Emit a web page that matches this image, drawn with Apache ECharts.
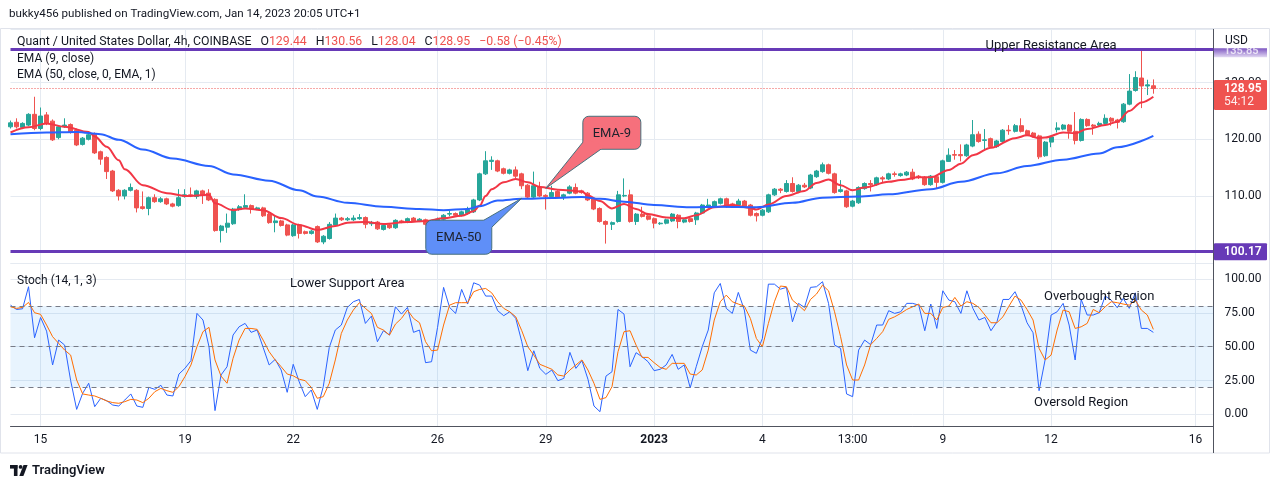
<!DOCTYPE html>
<html><head><meta charset="utf-8">
<script src="https://cdn.jsdelivr.net/npm/echarts@6/dist/echarts.min.js"></script>
<style>html,body{margin:0;padding:0;background:#fff;}#c{width:1280px;height:489px;}</style>
</head><body><div id="c"></div>
<script>
// ---------- data ----------
const opens = [
122.2,123.0,122.1,122.5,124.4,121.9,124.3,123.2,120.3,122.2,
122.6,121.6,119.1,120.0,120.9,117.8,116.8,114.4,111.0,110.0,
111.0,111.0,108.1,107.8,109.7,109.0,109.5,108.6,108.3,109.9,
110.2,109.9,110.9,110.5,109.4,103.9,104.5,105.1,107.6,108.0,
108.3,107.7,107.9,106.8,105.3,105.6,104.9,103.0,104.9,103.7,
103.4,104.6,101.9,102.5,104.9,106.1,105.8,105.8,106.0,106.2,
105.1,105.4,104.1,104.9,104.4,105.6,105.4,106.1,105.6,105.8,
105.1,105.3,105.9,106.8,106.9,106.6,106.9,107.2,109.3,113.9,
116.1,116.2,114.8,114.0,114.6,113.9,111.9,109.8,111.6,110.1,
109.9,110.8,109.9,110.5,111.5,110.9,110.5,109.5,107.8,105.5,
105.0,105.5,110.0,110.2,105.5,106.8,106.5,106.0,105.1,105.2,
105.6,106.6,105.4,106.0,105.8,107.0,108.2,108.1,108.7,109.5,
108.6,108.4,109.1,108.4,106.9,106.6,107.2,110.2,111.2,110.8,
112.2,110.8,111.9,111.4,113.4,114.3,115.5,113.9,110.8,110.9,
108.2,108.8,111.3,112.2,112.0,113.2,113.0,113.9,113.6,113.7,
114.2,113.5,113.3,112.0,113.4,112.4,116.1,117.3,117.3,117.1,
118.8,120.9,119.8,120.1,118.7,119.6,121.6,121.4,122.4,121.5,
121.1,120.6,117.1,119.5,121.7,121.8,122.5,121.4,119.8,123.5,
122.5,122.5,122.8,123.7,123.4,123.1,126.2,128.6,130.8,129.4,
129.44];
const closes = [
122.9,122.2,122.8,124.4,121.9,124.1,122.8,119.9,122.2,122.5,
121.3,119.0,120.2,120.8,117.6,116.5,114.3,110.9,110.0,111.0,
111.5,107.9,107.8,109.7,109.0,109.5,108.6,108.2,109.7,110.2,
110.0,110.9,110.2,109.3,103.9,104.7,105.2,107.7,108.1,108.3,
107.7,107.9,106.5,105.3,105.6,104.8,103.1,104.9,103.4,103.4,
103.8,101.9,102.9,105.0,106.1,105.8,106.0,106.1,106.2,105.0,
105.2,104.2,104.8,104.4,105.7,105.4,106.0,105.6,105.9,105.0,
105.3,105.9,106.6,106.9,106.6,107.2,107.6,109.3,113.9,116.2,
116.3,114.4,114.0,114.6,113.5,111.8,109.8,111.8,110.0,109.9,
110.6,109.8,110.2,111.6,110.5,110.6,109.3,107.7,105.5,105.0,
105.3,110.2,110.1,105.5,106.8,106.4,105.9,105.2,105.2,105.8,
106.8,105.5,105.8,105.5,107.0,108.4,108.4,109.0,109.5,108.1,
108.1,109.1,108.2,106.6,106.5,107.5,110.2,111.2,111.0,112.2,
110.8,111.9,111.6,113.7,114.4,115.5,114.0,110.6,111.1,108.1,
109.1,111.5,112.2,112.0,113.2,113.0,113.9,113.8,113.9,114.2,
113.0,113.4,112.0,113.5,112.4,116.2,117.2,117.2,117.1,119.0,
120.8,119.6,119.9,118.7,119.7,121.6,121.5,122.4,121.4,120.8,
120.5,116.9,119.5,120.4,122.0,122.5,121.4,119.8,123.5,122.4,
122.3,122.8,123.7,123.2,123.0,126.2,128.5,130.9,129.4,129.6,
128.95];
const lows = [
121.9,121.9,121.8,122.3,121.6,121.6,122.5,119.7,120.0,122.0,
121.0,118.8,118.9,119.8,117.4,115.5,113.0,110.7,109.2,109.4,
110.8,107.1,107.6,106.6,108.8,108.8,108.4,108.0,108.1,109.7,
109.8,109.5,108.6,109.1,103.7,101.8,103.5,104.9,107.4,107.8,
106.9,107.5,106.3,105.1,103.6,104.6,102.9,102.8,102.5,103.2,
103.2,101.7,101.5,102.3,104.7,105.6,105.6,105.6,105.8,104.3,
104.7,104.0,103.9,104.2,104.2,105.2,105.2,105.4,105.4,104.8,
104.3,105.1,105.7,106.4,106.4,106.4,106.7,107.0,109.1,113.7,
114.6,114.2,113.8,113.8,113.1,111.2,109.6,109.6,109.8,107.6,
109.7,109.6,109.3,110.3,110.3,110.4,109.1,107.5,105.3,101.6,
104.0,105.3,109.8,105.3,104.9,106.2,105.7,104.3,104.9,105.0,
105.4,104.3,105.2,105.3,104.9,106.8,108.0,107.9,108.5,107.9,
107.9,108.2,108.0,106.4,105.5,106.4,107.0,110.0,110.5,110.6,
110.6,110.6,111.4,111.2,113.2,114.1,113.8,110.4,110.6,107.9,
108.0,108.6,111.1,110.8,111.8,112.4,112.8,113.4,113.4,113.5,
112.8,113.0,111.8,111.8,111.4,112.2,116.0,116.4,116.1,116.9,
118.6,119.4,118.1,118.5,118.5,119.4,120.8,121.2,121.2,120.6,
120.3,116.5,116.9,118.6,121.2,121.6,120.1,119.1,119.6,122.2,
120.8,122.3,122.6,122.4,121.9,122.9,126.0,128.4,125.5,127.8,
128.04];
const highs = [
123.3,123.7,123.0,124.6,127.5,125.6,124.8,123.5,122.4,123.7,
122.8,121.9,120.4,121.0,121.2,118.0,117.0,114.6,111.2,111.2,
112.2,111.2,110.8,109.9,110.3,109.8,109.7,108.8,111.2,111.2,
111.5,111.1,111.1,111.2,109.6,104.9,106.9,107.9,108.4,110.3,
108.5,108.1,108.1,107.0,106.6,105.8,105.1,105.1,105.1,103.9,
104.0,104.8,103.1,105.4,106.9,106.3,106.3,106.6,106.8,106.4,
105.6,105.6,105.0,105.1,105.9,105.8,106.2,106.3,106.1,106.0,
105.5,106.2,106.8,107.4,107.1,107.4,108.1,109.5,114.1,117.9,
117.0,116.4,115.0,114.8,115.2,114.1,112.1,114.3,112.5,110.3,
111.8,111.0,110.4,111.9,112.2,111.1,110.7,109.7,108.0,105.7,
105.5,110.9,113.1,111.1,107.0,108.1,106.7,106.2,105.4,106.0,
107.0,106.8,106.0,106.2,107.2,108.6,109.5,109.2,109.7,109.7,
108.8,109.5,109.3,108.6,107.1,107.7,110.4,111.4,111.4,112.8,
113.3,112.1,112.3,113.9,114.6,115.9,115.7,114.1,112.8,111.1,
109.3,111.7,112.4,112.8,113.4,113.5,114.1,114.3,114.1,114.4,
114.8,113.7,113.5,113.7,113.6,116.4,118.4,118.1,119.1,119.2,
123.4,121.4,121.8,120.3,119.9,121.8,122.5,122.7,123.7,121.7,
121.3,120.8,119.7,120.6,123.0,122.7,122.7,124.8,123.7,123.7,
122.7,123.1,124.4,123.9,123.6,126.4,131.5,132.0,136.0,130.5,
130.56];
// EMA lines read at sample candles: [candle index, value]
const ema9 = [[0,121.2],[3,122.1],[6,122.8],[9,122.2],[13,121.3],[14,120.5],[16,118.7],[18,116.3],[19,114.7],[22,111.9],[26,110.5],[29,110.0],[33,110.2],[34,108.7],[37,107.5],[39,107.8],[42,107.5],[45,106.1],[48,104.9],[51,104.0],[54,104.7],[56,105.3],[59,105.4],[62,105.06],[66,105.4],[69,105.6],[72,106.06],[75,106.5],[77,107.3],[78,108.3],[79,110.0],[80,111.2],[82,112.4],[84,113.0],[86,112.4],[88,111.6],[91,111.1],[95,110.8],[96,110.1],[98,109.1],[100,107.8],[102,108.6],[104,107.7],[106,106.8],[109,106.2],[112,106.06],[114,106.6],[117,108.0],[120,108.4],[123,107.9],[124,107.6],[126,108.5],[129,110.0],[132,110.9],[134,112.3],[136,112.9],[138,111.9],[140,111.0],[142,111.5],[146,112.5],[148,112.8],[151,113.3],[153,113.3],[156,114.6],[158,115.7],[160,117.2],[163,118.5],[167,120.2],[169,120.7],[171,120.2],[172,120.3],[175,121.2],[177,121.06],[179,121.8],[182,122.5],[184,123.1],[186,125.0],[188,126.5],[190,127.5]];
const ema50 = [[0,120.9],[6,121.2],[11,121.3],[15,120.9],[18,119.9],[22,118.2],[27,116.6],[33,115.3],[37,113.8],[43,112.7],[48,111.0],[51,109.9],[56,108.8],[62,108.1],[68,107.7],[72,107.5],[76,107.7],[78,108.2],[81,109.2],[85,109.5],[90,109.65],[95,109.8],[98,109.5],[102,109.0],[107,108.4],[113,108.0],[118,108.1],[124,108.0],[130,108.8],[135,109.7],[141,109.9],[146,110.3],[153,111.2],[158,112.5],[164,114.0],[169,115.3],[175,116.4],[181,117.5],[184,118.6],[190,120.6]];
const stochK = [
80.7,77.5,78.0,94.3,56.6,71.6,61.5,36.5,54.9,51.2,
25.0,3.7,15.6,23.0,5.7,11.9,10.1,6.9,6.2,10.6,
15.1,6.2,5.2,20.0,18.5,21.5,14.3,13.6,29.8,34.0,
39.7,74.6,69.7,50.0,2.8,29.1,35.2,58.6,64.7,67.2,
60.6,62.3,49.5,36.5,40.6,32.8,16.3,37.0,24.0,13.1,
18.0,3.7,20.5,49.5,62.3,66.0,79.0,83.2,84.9,67.2,
72.6,53.7,61.8,58.6,79.5,74.1,79.0,60.6,62.3,38.2,
38.9,64.3,93.8,79.0,74.6,92.3,81.5,97.2,95.5,87.4,
87.4,76.6,72.9,75.8,70.9,53.7,32.3,47.0,34.0,29.6,
32.8,24.9,26.6,45.8,34.0,39.7,26.0,6.2,2.0,28.3,
31.5,77.5,74.1,35.2,45.6,42.6,38.9,32.3,33.3,36.5,
44.3,33.3,36.5,19.7,35.2,50.0,62.3,89.8,96.7,78.3,
74.6,90.1,77.1,47.5,45.1,56.1,96.2,96.2,92.5,93.8,
68.4,82.0,79.0,93.8,94.3,98.0,82.0,51.2,48.8,15.1,
13.1,47.5,54.9,51.5,66.0,66.0,76.6,74.6,75.8,82.0,
82.0,80.7,61.8,81.5,63.5,91.3,84.4,83.2,74.6,91.3,
78.3,69.7,71.6,61.8,68.4,84.9,84.9,90.6,80.7,67.7,
60.3,17.5,40.2,73.4,75.8,82.0,66.0,40.2,84.9,73.4,
73.4,75.1,87.4,84.4,78.8,85.7,78.3,89.8,63.5,63.5,
60.6];
const stochD = [
79.5,78.3,79.0,82.7,75.1,73.9,66.0,57.4,52.5,47.5,
43.8,25.4,15.1,14.3,13.6,11.9,9.9,8.7,8.2,9.4,
11.1,10.6,8.7,11.9,16.8,19.2,17.5,16.3,20.5,27.9,
36.5,50.0,61.1,64.3,40.2,28.3,23.0,41.4,54.9,63.5,
63.5,62.8,54.9,46.3,40.2,35.2,29.8,28.5,26.0,24.9,
20.0,11.9,13.1,23.0,40.2,59.8,69.7,77.1,82.5,78.3,
74.6,64.3,62.3,58.6,66.7,70.9,77.1,70.9,67.7,53.7,
47.0,47.5,66.0,80.7,82.5,82.5,82.5,90.6,92.3,93.0,
89.8,83.2,78.3,75.8,72.1,61.8,50.0,43.8,37.0,35.2,
33.3,29.1,28.3,32.8,36.5,40.2,32.8,23.0,11.1,12.4,
20.5,46.3,61.1,61.8,51.2,42.1,42.1,38.2,34.7,33.3,
37.7,37.7,37.7,29.8,29.1,32.8,47.5,69.7,83.2,88.1,
83.2,81.5,80.0,70.9,56.1,50.0,67.2,83.2,94.8,94.3,
84.4,80.7,76.6,84.9,88.9,95.5,91.3,75.8,57.4,36.5,
25.4,25.4,36.5,51.5,56.1,61.1,70.2,72.1,74.6,77.5,
79.5,81.5,74.6,74.6,69.7,79.0,80.0,86.4,80.0,83.2,
82.0,79.0,73.4,67.7,67.7,72.1,80.0,87.4,84.4,77.5,
69.7,48.8,40.2,43.8,62.3,77.1,75.8,63.5,64.7,67.2,
77.5,75.1,79.5,83.2,82.5,81.5,80.7,84.4,77.1,73.4,
62.8];
const resistanceLevel = 135.87;
const supportLevel = 100.17;
const lastClose = 128.95;
const stochLevels = [80, 50, 20];
const tickLabels = [
  ['2022-12-15 01:00','15'],['2022-12-19 01:00','19'],['2022-12-22 01:00','22'],
  ['2022-12-26 01:00','26'],['2022-12-29 01:00','29'],['2023-01-01 01:00','2023'],
  ['2023-01-04 01:00','4'],['2023-01-06 13:00','13:00'],['2023-01-09 01:00','9'],
  ['2023-01-12 01:00','12'],['2023-01-16 01:00','16']];
// 4h candle times (UTC+1), including empty slots to the right
const categories = [];
(function(){
  const pad = n => (n < 10 ? '0' : '') + n;
  for (let i = 0; i < 201; i++) {
    const d = new Date(Date.UTC(2022, 11, 14, 5) + i * 4 * 3600e3);
    categories.push(d.getUTCFullYear() + '-' + pad(d.getUTCMonth() + 1) + '-' + pad(d.getUTCDate()) + ' ' + pad(d.getUTCHours()) + ':00');
  }
})();
const labelMap = Object.fromEntries(tickLabels);

// ---------- chart ----------
const FONT = 'Roboto, "Noto Sans", sans-serif';
const TXT = '#131722';
const GRIDC = '#e5eaf1';
const chart = echarts.init(document.getElementById('c'), null, {renderer: 'canvas'});
const candles = opens.map((o, i) => [o, closes[i], lows[i], highs[i]]);
const isLabel = (idx, val) => Object.prototype.hasOwnProperty.call(labelMap, val);
const mult = (v, s) => Math.abs(v / s - Math.round(v / s)) < 1e-6;

chart.setOption({
  animation: false,
  backgroundColor: '#ffffff',
  textStyle: {fontFamily: FONT},
  grid: [
    {left: 10.5, right: 66.5, top: 29, height: 234},
    {left: 10.5, right: 66.5, top: 263, height: 163}
  ],
  xAxis: [
    {type: 'category', gridIndex: 0, data: categories, boundaryGap: false,
     axisLine: {show: false, onZero: false}, axisTick: {show: false}, axisLabel: {show: false},
     splitLine: {show: true, interval: isLabel, lineStyle: {color: GRIDC, width: 1}}},
    {type: 'category', gridIndex: 1, data: categories, boundaryGap: false,
     axisLine: {show: true, onZero: false, lineStyle: {color: '#50535e', width: 1}}, axisTick: {show: false},
     axisLabel: {show: true, interval: isLabel, color: TXT, fontSize: 12, margin: 8, fontFamily: FONT,
       formatter: v => labelMap[v] === '2023' ? '{b|2023}' : (labelMap[v] || ''),
       rich: {b: {fontWeight: 'bold', fontSize: 12, color: TXT, fontFamily: FONT}}},
     splitLine: {show: true, interval: isLabel, lineStyle: {color: GRIDC, width: 1}}}
  ],
  yAxis: [
    {type: 'value', gridIndex: 0, position: 'right', min: 98.18, max: 139.45, splitNumber: 4, minInterval: 10, maxInterval: 10,
     axisLine: {show: true, lineStyle: {color: '#50535e'}}, axisTick: {show: false},
     axisLabel: {color: TXT, fontSize: 12, margin: 11, fontFamily: FONT, formatter: v => mult(v, 10) ? v.toFixed(2) : ''},
     splitLine: {show: true, lineStyle: {color: GRIDC}}},
    {type: 'value', gridIndex: 1, position: 'right', min: -8.57, max: 111.82, splitNumber: 5, minInterval: 25, maxInterval: 25,
     axisLine: {show: true, lineStyle: {color: '#50535e'}}, axisTick: {show: false},
     axisLabel: {color: TXT, fontSize: 12, margin: 11, fontFamily: FONT, formatter: v => (mult(v, 25) && v >= 0 && v <= 100) ? v.toFixed(2) : ''},
     splitLine: {show: true, lineStyle: {color: GRIDC}}}
  ],
  series: [
    {type: 'candlestick', xAxisIndex: 0, yAxisIndex: 0, data: candles, barWidth: 4.5,
     itemStyle: {color: '#26a69a', color0: '#ef5350', borderColor: '#26a69a', borderColor0: '#ef5350', borderWidth: 1},
     markLine: {silent: true, symbol: 'none', animation: false, label: {show: false},
       data: [
         {yAxis: resistanceLevel, lineStyle: {color: '#673ab7', width: 3, type: 'solid'}},
         {yAxis: supportLevel, lineStyle: {color: '#673ab7', width: 3, type: 'solid'}},
         {yAxis: lastClose, lineStyle: {color: '#ef5350', width: 1, type: [1, 2]}}
       ]}},
    {type: 'line', name: 'EMA 9', xAxisIndex: 0, yAxisIndex: 0, data: ema9, smooth: 0.35, smoothMonotone: 'x', showSymbol: false,
     lineStyle: {color: '#f23645', width: 2}, z: 4},
    {type: 'line', name: 'EMA 50', xAxisIndex: 0, yAxisIndex: 0, data: ema50, smooth: 0.35, smoothMonotone: 'x', showSymbol: false,
     lineStyle: {color: '#2962ff', width: 2}, z: 4},
    {type: 'line', name: '%K', xAxisIndex: 1, yAxisIndex: 1, data: stochK, showSymbol: false,
     lineStyle: {color: '#2962ff', width: 1}, z: 4,
     markArea: {silent: true, itemStyle: {color: 'rgba(33,150,243,0.1)'}, data: [[{yAxis: 20}, {yAxis: 80}]]},
     markLine: {silent: true, symbol: 'none', label: {show: false},
       lineStyle: {color: '#787b86', width: 1, type: [5, 4]},
       data: stochLevels.map(v => ({yAxis: v}))}},
    {type: 'line', name: '%D', xAxisIndex: 1, yAxisIndex: 1, data: stochD, showSymbol: false,
     lineStyle: {color: '#ff6d00', width: 1}, z: 4}
  ]
});

// ---------- annotations, legends, price tags ----------
function px(g, x, y) { return chart.convertToPixel({gridIndex: g}, [x, y]); }
const G = [];
function txt(x, y, text, opt) {
  G.push(Object.assign({type: 'text', z: 100, style: Object.assign({x: x, y: y, text: text, fill: TXT, font: '12px ' + FONT, textAlign: 'left', textVerticalAlign: 'middle'}, opt || {})}));
}
// header / legend
txt(9, 14, 'bukky456 published on TradingView.com, Jan 14, 2023 20:05 UTC+1', {font: '11.6px ' + FONT});
G.push({type: 'text', z: 100, style: {x: 17, y: 42, textVerticalAlign: 'middle', font: '12px ' + FONT,
  text: '{n|Quant / United States Dollar, 4h, COINBASE}   {n|O}{v|129.44}   {n|H}{v|130.56}   {n|L}{v|128.04}   {n|C}{v|128.95}   {v|\u22120.58 (\u22120.45%)}',
  rich: {n: {fill: TXT, font: '12.3px ' + FONT}, v: {fill: '#ef5350', font: '12.3px ' + FONT}}}});
txt(17, 59, 'EMA (9, close)');
txt(17, 75, 'EMA (50, close, 0, EMA, 1)');
txt(17, 281, 'Stoch (14, 1, 3)');
txt(1225, 41, 'USD');

// area annotations (anchored in data space)
let p = px(0, 173.4, 136.55); txt(p[0], p[1], 'Upper Resistance Area', {textAlign: 'center', font: '13px ' + FONT});
p = px(1, 56.2, 96.3); txt(p[0], p[1], 'Lower Support Area', {textAlign: 'center', font: '13px ' + FONT});
p = px(1, 181.0, 87.2); txt(p[0], p[1], 'Overbought Region', {textAlign: 'center', font: '13px ' + FONT});
p = px(1, 178.0, 8.4); txt(p[0], p[1], 'Oversold Region', {textAlign: 'center', font: '13px ' + FONT});

// callouts
function callout(tip, box, a, a2, b2, b, fill, label) {
  const border = '#47707c';
  G.push({type: 'rect', z: 100, shape: {x: box[0], y: box[1], width: box[2], height: box[3], r: 6}, style: {fill: fill, stroke: border, lineWidth: 1}});
  G.push({type: 'polygon', z: 101, shape: {points: [a, a2, b2, b, tip]}, style: {fill: fill}});
  G.push({type: 'polyline', z: 102, shape: {points: [a, tip, b]}, style: {stroke: border, lineWidth: 1, fill: null}});
  txt(box[0] + box[2] / 2, box[1] + box[3] / 2 + 1, label, {textAlign: 'center', font: '13px ' + FONT, fill: '#1e222d'});
  G[G.length - 1].z = 103;
}
let t = px(0, 89, 111.36);
callout(t, [t[0] + 37, t[1] - 72, 58, 33], [t[0] + 37, t[1] - 46], [t[0] + 41, t[1] - 49], [t[0] + 58, t[1] - 42], [t[0] + 55, t[1] - 39], '#f6707c', 'EMA-9');
t = px(0, 85.25, 109.6);
callout(t, [t[0] - 96, t[1] + 22, 66, 34], [t[0] - 38, t[1] + 22], [t[0] - 40, t[1] + 25], [t[0] - 33, t[1] + 31], [t[0] - 30, t[1] + 29], '#5f8ff8', 'EMA-50');

// price tags on right axis
const ax = 1214;
let y = px(0, 0, lastClose)[1];
G.push({type: 'rect', z: 100, shape: {x: ax, y: y - 8.5, width: 53, height: 30, r: 1}, style: {fill: '#ef5350'}});
txt(ax + 10, y + 0.5, '128.95', {fill: '#ffffff', font: '600 12px ' + FONT});
txt(ax + 10, y + 13, '54:12', {fill: 'rgba(255,255,255,0.9)', font: '12px ' + FONT});
y = px(0, 0, supportLevel)[1];
G.push({type: 'rect', z: 100, shape: {x: ax, y: y - 8.5, width: 53, height: 17, r: 1}, style: {fill: '#673ab7'}});
txt(ax + 10, y + 0.5, '100.17', {fill: '#ffffff', font: '600 12px ' + FONT});
y = px(0, 0, resistanceLevel)[1];
G.push({type: 'rect', z: 100, shape: {x: ax, y: y - 1, width: 53, height: 9},
  style: {fill: {type: 'linear', x: 0, y: 0, x2: 0, y2: 1, colorStops: [{offset: 0, color: '#7e57c2'}, {offset: 1, color: '#e2d9f3'}]}}});
txt(ax + 10, y + 2, '135.85', {fill: 'rgba(255,255,255,0.75)', font: '600 11px ' + FONT});

// frame pieces
G.push({type: 'line', z: 100, shape: {x1: 1213.5, y1: 426, x2: 1213.5, y2: 453}, style: {stroke: '#50535e', lineWidth: 1}});
G.push({type: 'rect', z: 99, shape: {x: 0.5, y: 28.5, width: 1269, height: 424.5}, style: {fill: null, stroke: '#e0e3eb', lineWidth: 1}});

// TradingView logo
G.push({type: 'rect', z: 100, shape: {x: 10, y: 465, width: 7.5, height: 3.6}, style: {fill: TXT}});
G.push({type: 'rect', z: 100, shape: {x: 13.9, y: 465, width: 3.6, height: 11}, style: {fill: TXT}});
G.push({type: 'circle', z: 100, shape: {cx: 20.6, cy: 466.9, r: 1.9}, style: {fill: TXT}});
G.push({type: 'polygon', z: 100, shape: {points: [[23.5, 465], [27.6, 465], [23.4, 476], [19.3, 476]]}, style: {fill: TXT}});
txt(32, 471, 'TradingView', {font: '600 13px ' + FONT});

chart.setOption({graphic: G});
</script></body></html>
